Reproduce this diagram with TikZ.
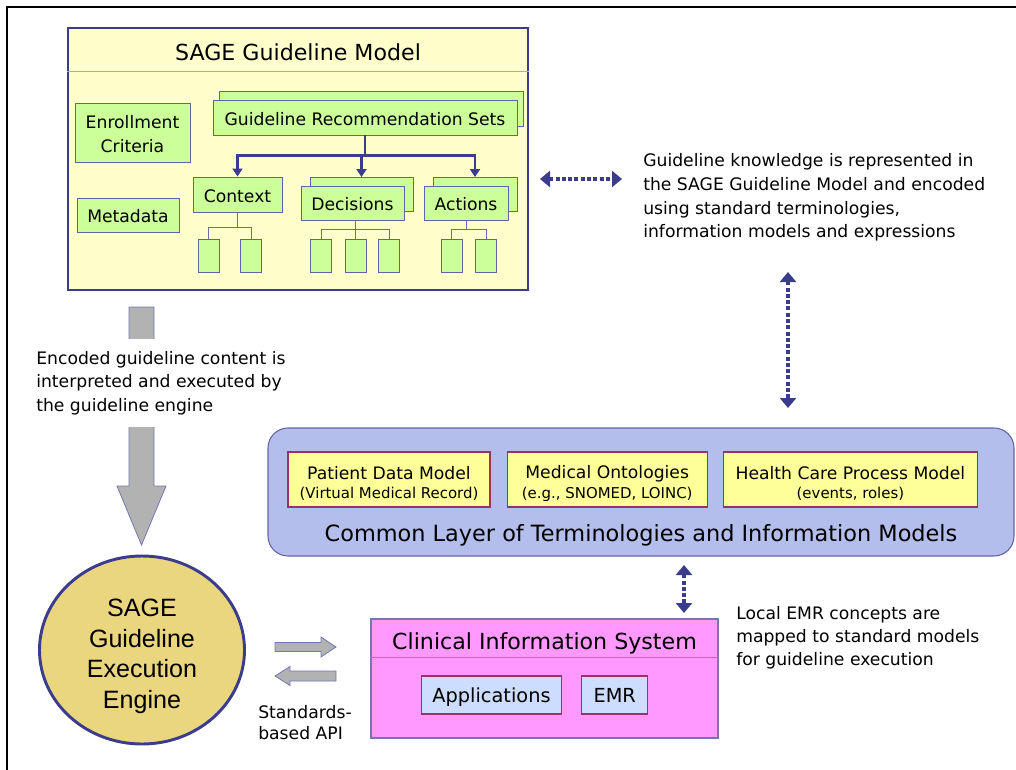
\documentclass[tikz,border=0pt]{standalone}
\usepackage{fontspec}
\setmainfont{DejaVu Sans}
\newfontfamily\enginefont{Liberation Sans}
\usepackage{xcolor}
\usetikzlibrary{shapes.geometric}
\usetikzlibrary{arrows.meta}
\usetikzlibrary{positioning}

\newdimen\pxu \pxu=0.75pt
\definecolor{sageblue}{RGB}{60,60,140}
\definecolor{modelfill}{RGB}{255,255,204}
\definecolor{leafgreen}{RGB}{204,255,153}
\definecolor{layerblue}{RGB}{180,190,236}
\definecolor{termyellow}{RGB}{255,255,153}
\definecolor{termborder}{RGB}{153,51,102}
\definecolor{cispink}{RGB}{255,153,255}
\definecolor{appblue}{RGB}{204,221,255}
\definecolor{enginesand}{RGB}{235,214,128}
\definecolor{arrowgray}{RGB}{178,178,178}
\newcommand{\headstrut}[1]{\rule{0pt}{#1}}

\begin{document}
\begin{tikzpicture}[x=0.75pt,y=-0.75pt]
\tikzset{modelbox/.style={draw=sageblue,fill=modelfill,line width=2.2pt,minimum width=460*\pxu,minimum height=262*\pxu,inner sep=0pt},
greenbox/.style={draw=sageblue!80,fill=leafgreen,line width=0.7pt,inner sep=0pt,font=\fontsize{12.9}{18}\selectfont},
oneline/.style={text height=11.8pt,text depth=0pt},
leaf/.style={greenbox,minimum width=21*\pxu,minimum height=33*\pxu},
treearrow/.style={draw=sageblue,line width=1.9pt,-{Triangle[width=7.5pt,length=6pt]}},
leafline/.style={draw=sageblue!75,line width=0.75pt},
dotarrow/.style={draw=sageblue,line width=2.8pt,dash pattern=on 3pt off 1.7pt,{Triangle[width=12pt,length=7.5pt]}-{Triangle[width=12pt,length=7.5pt]}},
txt/.style={align=left,inner sep=0pt,font=\fontsize{12.9}{17.8}\selectfont},
layerbox/.style={draw=sageblue!80,fill=layerblue,line width=0.8pt,rounded corners=15pt,minimum width=746*\pxu,minimum height=128*\pxu},
termbox/.style={draw=termborder,fill=termyellow,line width=0.9pt,minimum height=55*\pxu,inner sep=0pt,align=center,font=\fontsize{12.9}{14.6}\selectfont},
cisbox/.style={draw=sageblue!70,fill=cispink,line width=0.9pt,minimum width=347*\pxu,minimum height=119*\pxu},
appbox/.style={draw=termborder,fill=appblue,line width=0.9pt,minimum height=38*\pxu,inner sep=0pt,text height=14pt,text depth=3.5pt,font=\fontsize{14.5}{17}\selectfont},
engine/.style={ellipse,draw=sageblue,fill=enginesand,line width=2.2pt,minimum width=205*\pxu,minimum height=188*\pxu,inner sep=0pt,align=center,font=\enginefont\fontsize{18.8}{22.9}\selectfont},
grayarrow/.style={fill=arrowgray,draw=sageblue!70,line width=0.6pt}}
\useasboundingbox (0,0) rectangle (1016,770);
% frame
\draw[line width=2.2pt] (1016,7) -- (7,7) -- (7,770);

% SAGE guideline model
\node[modelbox] (model) at (298,159) {};
\draw[draw=sageblue!45,line width=0.6pt] ([shift={(0,45)}]model.north west) -- ([shift={(0,45)}]model.north east);
\node[font=\fontsize{16.6}{20}\selectfont] (modeltitle) at ([shift={(0,26)}]model.north) {SAGE Guideline Model};
\node[greenbox,align=center,minimum width=115*\pxu,minimum height=59*\pxu] (enroll) at (132.5,132.5) {\headstrut{12.6pt}Enrollment\\Criteria};
\node[greenbox,oneline,minimum width=102*\pxu,minimum height=34*\pxu] (meta) at (128,215) {Metadata};
\node[greenbox,minimum width=304*\pxu,minimum height=35*\pxu] (grsback) at (371,108.5) {};
\node[greenbox,oneline,minimum width=304*\pxu,minimum height=35*\pxu] (grs) at (365,117.5) {Guideline Recommendation Sets};
\node[greenbox,oneline,minimum width=89*\pxu,minimum height=35*\pxu] (ctx) at (237.5,194.5) {Context};
\node[greenbox,minimum width=103*\pxu,minimum height=34*\pxu] (decback) at (361.5,194.5) {};
\node[greenbox,oneline,minimum width=103*\pxu,minimum height=34*\pxu] (dec) at (352.5,203) {Decisions};
\node[greenbox,minimum width=84*\pxu,minimum height=34*\pxu] (actback) at (475,194.5) {};
\node[greenbox,oneline,minimum width=84*\pxu,minimum height=34*\pxu] (act) at (466,203) {Actions};
\draw[treearrow] (grs.south) -- ++(0,20) -| (ctx.north);
\draw[treearrow] (grs.south) -- ++(0,20) -| (decback.north);
\draw[treearrow] (grs.south) -- ++(0,20) -| (actback.north);

% leaves
\node[leaf] (cl1) at (208.5,255.5) {};
\node[leaf] (cl2) at (251,255.5) {};
\node[leaf] (dl1) at (321,255.5) {};
\node[leaf] (dl2) at (355.5,255.5) {};
\node[leaf] (dl3) at (389,255.5) {};
\node[leaf] (al1) at (451.5,255.5) {};
\node[leaf] (al2) at (486,255.5) {};
\draw[leafline] (ctx.south) -- ++(0,15) -| (cl1.north);
\draw[leafline] (ctx.south) -- ++(0,15) -| (cl2.north);
\draw[leafline] (dec.south -| dl2) -- ++(0,9) -| (dl1.north);
\draw[leafline] (dec.south -| dl2) -- ++(0,9) -| (dl3.north);
\draw[leafline] (dec.south -| dl2) -- (dl2.north);
\draw[leafline] (act.south) -- ++(0,9) -| (al1.north);
\draw[leafline] (act.south) -- ++(0,9) -| (al2.north);

% knowledge note
\node[txt,anchor=west] (know) at (643,197.5) {Guideline knowledge is represented in\\the SAGE Guideline Model and encoded\\using standard terminologies,\\information models and expressions};
\coordinate (kh1) at (540,179);
\coordinate (kh2) at (622,179);
\draw[dotarrow,line width=2.4pt] (kh1) -- (kh2);
\coordinate (kv1) at (788,272);
\coordinate (kv2) at (788,408);
\draw[dotarrow] (kv1) -- (kv2);

% common layer
\node[layerbox] (layer) at (641,492) {};
\node[termbox,minimum width=202*\pxu] (patient) at (389,479.5) {\headstrut{15.8pt}Patient Data Model\\{\fontsize{11.2}{14.6}\selectfont (Virtual Medical Record)}};
\node[termbox,minimum width=200*\pxu,right=12pt of patient] (onto) {\headstrut{15.8pt}Medical Ontologies\\{\fontsize{11.2}{14.6}\selectfont (e.g., SNOMED, LOINC)}};
\node[termbox,minimum width=254*\pxu,right=11.25pt of onto] (process) {\headstrut{15.8pt}Health Care Process Model\\{\fontsize{11.2}{14.6}\selectfont (events, roles)}};
\node[font=\fontsize{16.8}{20}\selectfont] (layertitle) at (641,535) {Common Layer of Terminologies and Information Models};

% clinical information system
\node[cisbox] (cis) at (544.5,678.5) {};
\draw[draw=sageblue!60,line width=0.8pt] ([shift={(0,39)}]cis.north west) -- ([shift={(0,39)}]cis.north east);
\node[font=\fontsize{16.6}{20}\selectfont] (cistitle) at ([shift={(0,25)}]cis.north) {Clinical Information System};
\node[appbox,minimum width=140*\pxu] (apps) at (491.5,695) {Applications};
\node[appbox,minimum width=66*\pxu,right=14.25pt of apps] (emr) {EMR};
\coordinate (cv1) at (684,565);
\coordinate (cv2) at (684,613);
\draw[dotarrow] (cv1) -- (cv2);
\node[txt,anchor=west,font=\fontsize{12.9}{17.25}\selectfont] (local) at (736,637.5) {Local EMR concepts are\\mapped to standard models\\for guideline execution};

% execution engine
\draw[grayarrow] (129,307) -- (154,307) -- (154,486) -- (166,486) -- (141.5,545) -- (117,486) -- (129,486) -- cycle;
\node[txt,anchor=west,fill=white,minimum height=88*\pxu] (encoded) at (36,383) {Encoded guideline content is\\interpreted and executed by\\the guideline engine};
\node[engine] (engine) at (142,650) {\headstrut{22.5pt}SAGE\\Guideline\\Execution\\Engine};
\draw[grayarrow] (275,642.5) -- (321,642.5) -- (321,637) -- (336,647) -- (321,657) -- (321,651.5) -- (275,651.5) -- cycle;
\draw[grayarrow] (336,671) -- (290,671) -- (290,666.5) -- (275,676) -- (290,685.5) -- (290,681) -- (336,681) -- cycle;
\node[txt,anchor=west,font=\fontsize{12.9}{15.8}\selectfont] (api) at (258,722.5) {Standards-\\based API};
\end{tikzpicture}
\end{document}
